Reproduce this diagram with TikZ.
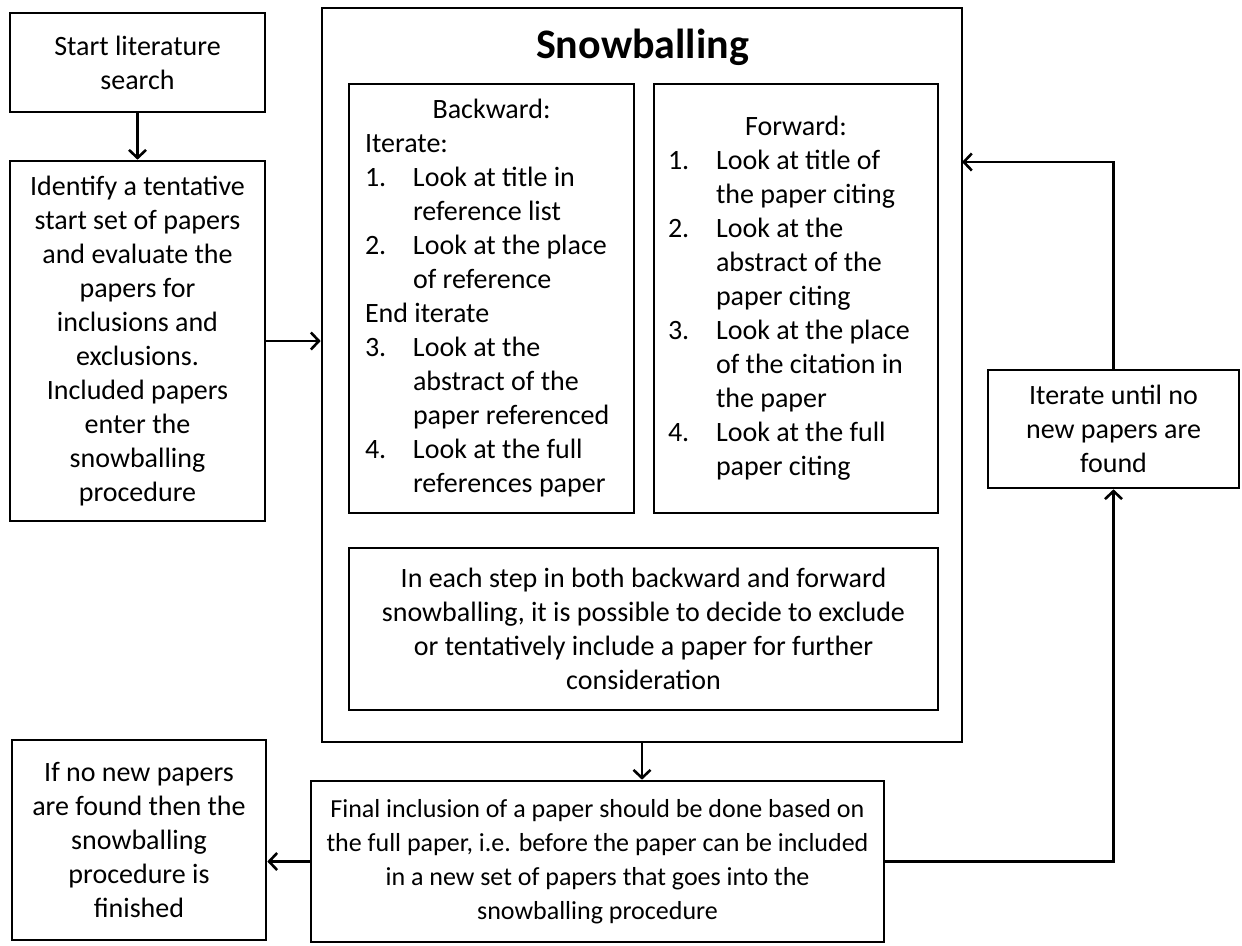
\documentclass[tikz,border=0pt]{standalone}
\usepackage{fontspec}
\setmainfont{Carlito}
\usetikzlibrary{arrows.meta}
\newcommand{\numline}[2]{\noindent\makebox[48pt][l]{#1}#2\par}
\newcommand{\plainline}[1]{\noindent #1\par}
\newcommand{\midline}[1]{\noindent\makebox[\linewidth]{#1}\par}
\tikzset{
  box/.style={draw, line width=2.6pt, align=center, inner sep=0pt,
    font=\fontsize{28}{34}\selectfont, text=black},
  listbox/.style={box, align=flush left},
  conn/.style={line width=2.6pt, -{Straight Barb[length=8pt,width=17pt]}}
}
\begin{document}
\begin{tikzpicture}[x=1pt,y=-1pt]
\useasboundingbox (0,0) rectangle (1242,945);

\node[box, minimum width=255pt, minimum height=99pt] (start) at (137.5,62.5)
  {Start literature\\search};
\node[box, minimum width=255pt, minimum height=360pt] (ident) at (137.5,341)
  {Identify a tentative\\start set of papers\\and evaluate the\\papers for\\inclusions and\\exclusions.\\Included papers\\enter the\\snowballing\\procedure};

\node[box, minimum width=640pt, minimum height=734pt] (big) at (642,375) {};
\node[font=\fontsize{42}{50}\selectfont\bfseries, inner sep=0pt] (title) at (642.5,47) {Snowballing};

\node[listbox, minimum width=285pt, minimum height=429pt, text width=253pt] (back) at (491.5,298.5)
  {\midline{Backward:}
   \plainline{Iterate:}
   \numline{1.}{Look at title in}
   \numline{}{reference list}
   \numline{2.}{Look at the place}
   \numline{}{of reference}
   \plainline{End iterate}
   \numline{3.}{Look at the}
   \numline{}{abstract of the}
   \numline{}{paper referenced}
   \numline{4.}{Look at the full}
   \numline{}{references paper}};

\node[listbox, minimum width=284pt, minimum height=429pt, text width=256pt] (fwd) at (796,298.5)
  {\midline{Forward:}
   \numline{1.}{Look at title of}
   \numline{}{the paper citing}
   \numline{2.}{Look at the}
   \numline{}{abstract of the}
   \numline{}{paper citing}
   \numline{3.}{Look at the place}
   \numline{}{of the citation in}
   \numline{}{the paper}
   \numline{4.}{Look at the full}
   \numline{}{paper citing}};

\node[box, minimum width=589pt, minimum height=162pt] (each) at (643.5,629)
  {In each step in both backward and forward\\snowballing, it is possible to decide to exclude\\or tentatively include a paper for further\\consideration};

\node[box, minimum width=573pt, minimum height=161pt, font=\fontsize{26}{34}\selectfont] (final) at (597.5,861.5)
  {Final inclusion of a paper should be done based on\\the full paper, i.e. before the paper can be included\\in a new set of papers that goes into the\\snowballing procedure};

\node[box, minimum width=254pt, minimum height=200pt] (finish) at (139,840)
  {If no new papers\\are found then the\\snowballing\\procedure is\\finished};

\node[box, minimum width=251pt, minimum height=118pt] (iter) at (1113.5,429)
  {Iterate until no\\new papers are\\found};

\coordinate (ret) at (962,162);

\draw[conn] (start.south) -- (ident.north);
\draw[conn] (ident.east) -- (ident.east -| big.west);
\draw[conn] (big.south) -- (big.south |- final.north);
\draw[conn] (final.west) -- (final.west -| finish.east);
\draw[conn] (final.east) -| (iter.south);
\draw[conn] (iter.north) |- (ret);
\end{tikzpicture}
\end{document}
